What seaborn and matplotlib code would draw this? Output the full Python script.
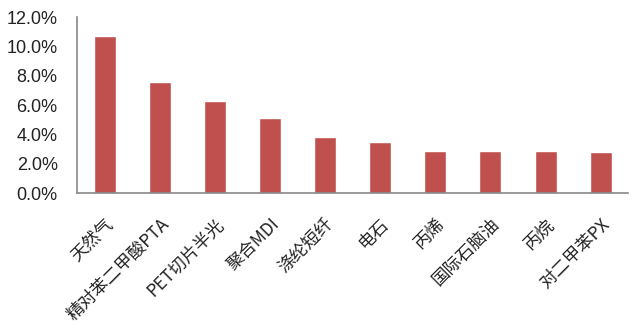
import numpy as np
import pandas as pd
import matplotlib
matplotlib.use('Agg')
import matplotlib.pyplot as plt
import seaborn as sns
from matplotlib.ticker import PercentFormatter, FixedLocator

# data
products = ['天然气', '精对苯二甲酸PTA', 'PET切片半光', '聚合MDI', '涤纶短纤',
            '电石', '丙烯', '国际石脑油', '丙烷', '对二甲苯PX']
share = [10.7, 7.6, 6.3, 5.1, 3.8, 3.5, 2.85, 2.85, 2.85, 2.8]

df = pd.DataFrame({'product': products, 'share': share})

sns.set_style('white')
plt.rcParams['font.family'] = ['Liberation Sans', 'Noto Sans CJK SC', 'DejaVu Sans']

fig = plt.figure(figsize=(6.43, 3.30), dpi=100)
ax = fig.add_axes([0.12, 0.415, 0.857, 0.533])

sns.barplot(x='product', y='share', data=df, color='#C0504D', saturation=1,
            width=0.4, ax=ax)

ax.set_ylim(0, 12)
ax.set_xlim(-0.5, len(products) - 0.5)
ax.set_yticks(np.arange(0, 12.1, 2))
ax.yaxis.set_major_formatter(PercentFormatter(decimals=1))
ax.set_xlabel('')
ax.set_ylabel('')

# tick marks sit between categories
ax.xaxis.set_minor_locator(FixedLocator(np.arange(-0.5, len(products), 1)))
ax.tick_params(axis='x', which='major', length=0, pad=16)
ax.tick_params(axis='x', which='minor', length=5, color='#888888', direction='out')
ax.tick_params(axis='y', length=5, color='#888888', direction='out',
               labelsize=13, pad=9, labelcolor='#222222')
ax.set_xticks(range(len(products)))
ax.set_xticklabels(products, rotation=45, ha='right', rotation_mode='anchor',
                   fontsize=12.5, color='#222222',
                   family=['Noto Sans CJK SC', 'DejaVu Sans'])

for side in ['top', 'right']:
    ax.spines[side].set_visible(False)
for side in ['left', 'bottom']:
    ax.spines[side].set_color('#888888')
    ax.spines[side].set_linewidth(1.2)

plt.savefig('out.png', dpi=100)
